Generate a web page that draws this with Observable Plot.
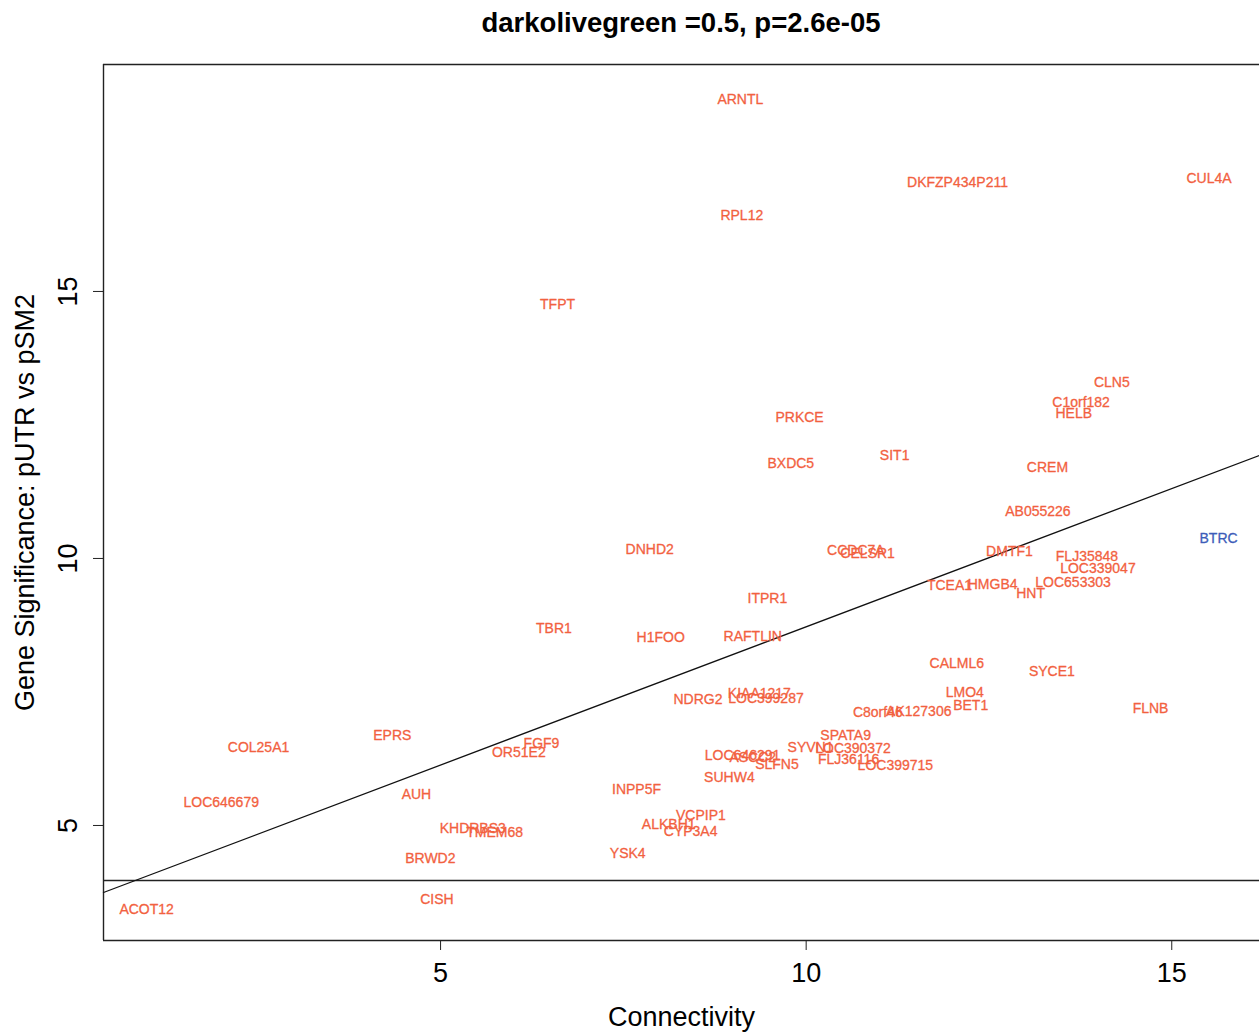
<!DOCTYPE html>
<html>
<head>
<meta charset="utf-8">
<script src="https://cdn.jsdelivr.net/npm/d3@7"></script>
<script src="https://cdn.jsdelivr.net/npm/@observablehq/plot@0.6"></script>
<style>
  html, body { margin: 0; padding: 0; background: #fff; }
  #title { height: 44px; padding-left: 103px; width: 1156px; text-align: center; box-sizing: content-box;
           font: bold 27.5px "Liberation Sans", Arial, Helvetica, sans-serif; color: #000; }
  #title span { display: inline-block; position: relative; top: 7px; line-height: 32px; }
</style>
</head>
<body>
<div id="title"><span>darkolivegreen =0.5, p=2.6e-05</span></div>
<div id="chart"></div>
<script>
// ---- data ----
const genes = ["ARNTL","DKFZP434P211","CUL4A","RPL12","TFPT","CLN5","C1orf182","HELB","PRKCE","BXDC5",
  "SIT1","CREM","AB055226","BTRC","DNHD2","CCDC7A","CELSR1","DMTF1","FLJ35848","LOC339047",
  "TCEA1","HMGB4","LOC653303","HNT","ITPR1","TBR1","H1FOO","RAFTLIN","CALML6","SYCE1",
  "LMO4","BET1","FLNB","NDRG2","KIAA1217","LOC399287","C8orf46","AK127306","COL25A1","EPRS",
  "FGF9","OR51E2","SPATA9","SYVN1","LOC390372","LOC646291","ASCC2","SLFN5","FLJ36116","LOC399715",
  "SUHW4","LOC646679","AUH","INPP5F","VCPIP1","ALKBH1","CYP3A4","KHDRBS3","TMEM68","BRWD2",
  "YSK4","CISH","ACOT12"];
const connectivity = [9.10,12.07,15.51,9.12,6.60,14.18,13.76,13.66,9.91,9.79,
  11.21,13.30,13.17,15.64,7.86,10.68,10.84,12.78,13.84,13.99,
  11.96,12.55,13.65,13.07,9.47,6.55,8.01,9.27,12.06,13.36,
  12.17,12.25,14.71,8.52,9.36,9.45,10.98,11.54,2.51,4.34,
  6.38,6.07,10.54,10.06,10.64,9.13,9.27,9.60,10.58,11.22,
  8.95,2.00,4.67,7.68,8.56,8.12,8.42,5.44,5.74,4.86,
  7.56,4.95,0.98];
const significance = [18.60,17.04,17.12,16.42,14.76,13.30,12.92,12.72,12.64,11.78,
  11.93,11.70,10.88,10.37,10.17,10.15,10.09,10.13,10.04,9.81,
  9.49,9.51,9.55,9.34,9.25,8.69,8.52,8.54,8.03,7.88,
  7.49,7.25,7.19,7.36,7.47,7.38,7.12,7.13,6.46,6.69,
  6.54,6.37,6.69,6.46,6.44,6.31,6.27,6.14,6.24,6.12,
  5.90,5.43,5.58,5.67,5.19,5.02,4.89,4.94,4.87,4.38,
  4.48,3.61,3.43];
const groups = ["module", "hub"];
const group = genes.map(g => g === "BTRC" ? "hub" : "module");
const xTicks = [5, 10, 15];
const yTicks = [5, 10, 15];
const xDomain = [0.39, 16.20];
const yDomain = [2.846, 19.25];
const fitIntercept = 3.543;
const fitSlope = 0.5177;
const threshold = 3.97;

const data = genes.map((g, i) => ({gene: g, x: connectivity[i], y: significance[i], group: group[i]}));
const fitLine = xDomain.map(x => ({x, y: fitIntercept + fitSlope * x}));

const font = '"Liberation Sans", Arial, Helvetica, sans-serif';
const chart = Plot.plot({
  width: 1259,
  height: 989,
  marginTop: 20,
  marginBottom: 93,
  marginLeft: 103,
  marginRight: 0,
  style: {fontFamily: font, background: "#fff", color: "#000"},
  x: {domain: xDomain},
  y: {domain: yDomain},
  color: {type: "ordinal", domain: groups, range: ["#F2613F", "#3D5DB9"]},
  marks: [
    Plot.ruleY([yDomain[1]], {stroke: "#222", strokeWidth: 1.4}),
    Plot.ruleY([yDomain[0]], {stroke: "#222", strokeWidth: 1.4}),
    Plot.ruleX([xDomain[0]], {stroke: "#222", strokeWidth: 1.4}),
    Plot.ruleY([threshold], {stroke: "#222", strokeWidth: 1.3}),
    Plot.line(fitLine, {x: "x", y: "y", stroke: "#111", strokeWidth: 1.3}),
    Plot.text(data, {x: "x", y: "y", text: "gene", fill: "group", stroke: "group", strokeWidth: 0.3, fontSize: 14}),
    Plot.axisX({ticks: xTicks, tickSize: 10, tickPadding: 12, fontSize: 27, label: null, stroke: "#222"}),
    Plot.axisY({ticks: yTicks, tickSize: 10, tickPadding: 17, tickRotate: -90, fontSize: 27, label: null, stroke: "#222"}),
    Plot.text(["Connectivity"], {frameAnchor: "bottom", textAnchor: "middle", lineAnchor: "middle", dy: 77, fontSize: 27}),
    Plot.text(["Gene Significance: pUTR vs pSM2"], {frameAnchor: "left", textAnchor: "middle", lineAnchor: "middle", dx: -78, rotate: -90, fontSize: 27})
  ]
});
document.getElementById("chart").appendChild(chart);
</script>
</body>
</html>
